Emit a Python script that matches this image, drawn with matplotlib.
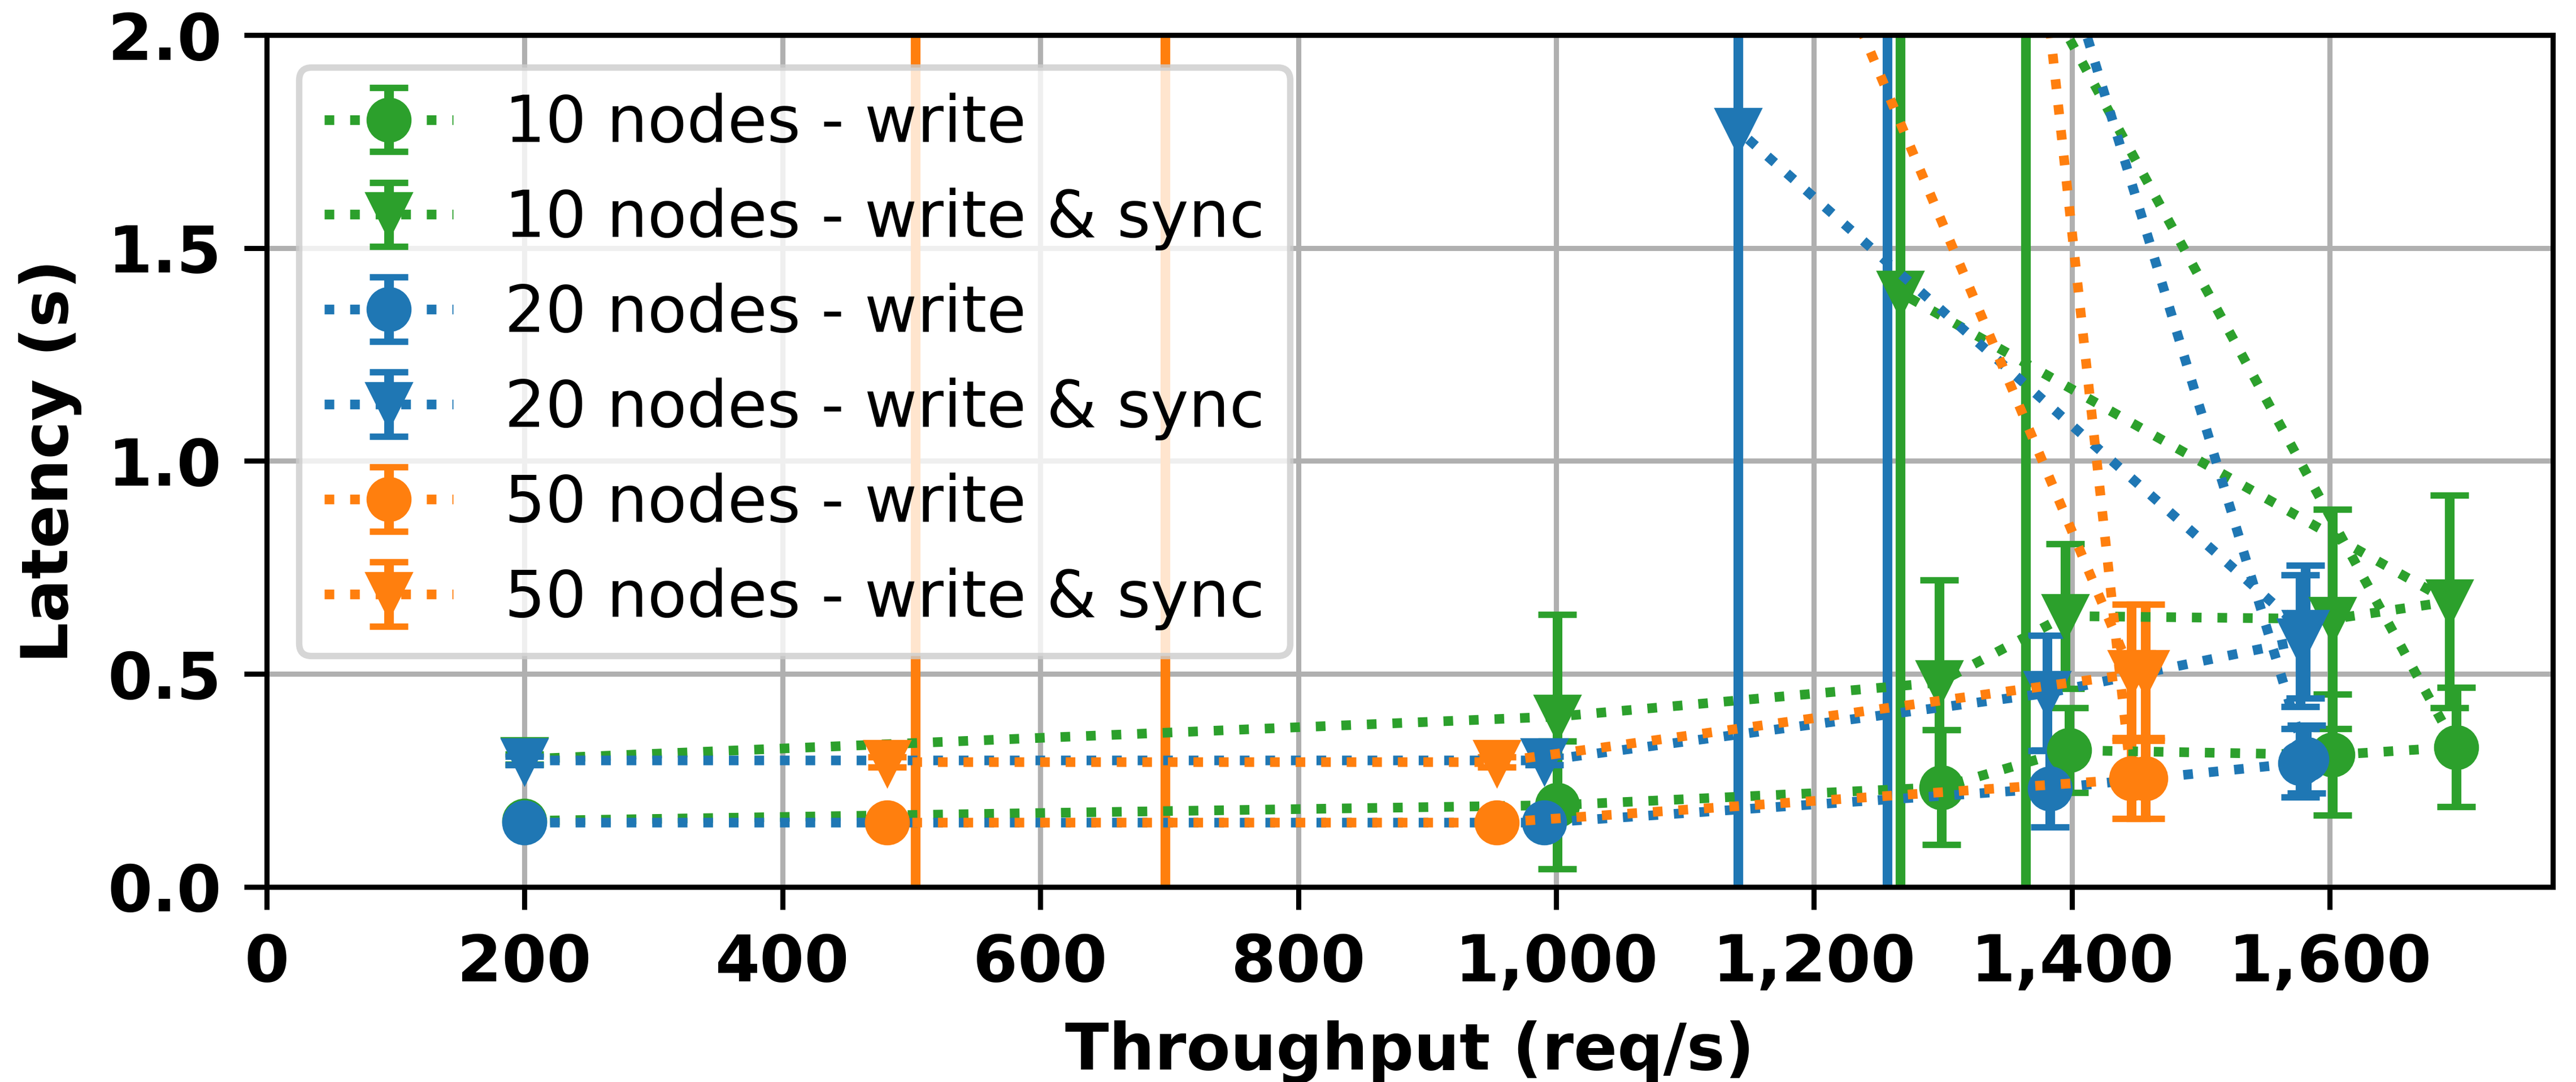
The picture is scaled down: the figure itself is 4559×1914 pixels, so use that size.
import matplotlib
matplotlib.use('Agg')
import matplotlib.pyplot as plt

dpi = 819

# throughput (req/s), latency (s), latency error (s); last point of each run is the overload point
tput_10_write = [200, 1001, 1299, 1398, 1602, 1698, 1364]
lat_10_write = [0.155, 0.192, 0.234, 0.321, 0.31, 0.328, 2.18]
err_10_write = [0.01, 0.15, 0.135, 0.10, 0.142, 0.14, 2.6]

tput_10_sync = [200, 1001, 1297, 1395, 1602, 1693, 1267]
lat_10_sync = [0.30, 0.40, 0.48, 0.636, 0.629, 0.67, 1.395]
err_10_sync = [0.012, 0.24, 0.24, 0.17, 0.257, 0.25, 1.6]

tput_20_write = [200, 991, 1383, 1577, 1582, 1257]
lat_20_write = [0.151, 0.151, 0.231, 0.291, 0.30, 3.54]
err_20_write = [0.01, 0.01, 0.09, 0.08, 0.08, 4.0]

tput_20_sync = [200, 991, 1381, 1577, 1581, 1141]
lat_20_sync = [0.297, 0.297, 0.455, 0.578, 0.599, 1.777]
err_20_sync = [0.01, 0.01, 0.135, 0.155, 0.156, 1.9]

tput_50_write = [481, 954, 1457, 1446, 503]
lat_50_write = [0.151, 0.151, 0.255, 0.255, 26.6]
err_50_write = [0.01, 0.01, 0.095, 0.095, 30.0]

tput_50_sync = [481, 954, 1457, 1446, 697]
lat_50_sync = [0.293, 0.293, 0.504, 0.504, 5.9]
err_50_sync = [0.012, 0.012, 0.16, 0.16, 7.0]

x_ticks = [0, 200, 400, 600, 800, 1000, 1200, 1400, 1600]
y_ticks = [0.0, 0.5, 1.0, 1.5, 2.0]

fig = plt.figure(figsize=(4559 / dpi, 1914 / dpi), dpi=dpi)
ax = fig.add_subplot(111)
fig.subplots_adjust(left=0.1035, right=0.991, bottom=0.1803, top=0.9676)

ax.errorbar(tput_10_write, lat_10_write, yerr=err_10_write, fmt='o:', color='C2',
            capsize=3, label='10 nodes - write')
ax.errorbar(tput_10_sync, lat_10_sync, yerr=err_10_sync, fmt='v:', color='C2',
            capsize=3, label='10 nodes - write & sync')
ax.errorbar(tput_20_write, lat_20_write, yerr=err_20_write, fmt='o:', color='C0',
            capsize=3, label='20 nodes - write')
ax.errorbar(tput_20_sync, lat_20_sync, yerr=err_20_sync, fmt='v:', color='C0',
            capsize=3, label='20 nodes - write & sync')
ax.errorbar(tput_50_write, lat_50_write, yerr=err_50_write, fmt='o:', color='C1',
            capsize=3, label='50 nodes - write')
ax.errorbar(tput_50_sync, lat_50_sync, yerr=err_50_sync, fmt='v:', color='C1',
            capsize=3, label='50 nodes - write & sync')

ax.set_xlim(0, 1773)
ax.set_ylim(0, 2.0)
ax.set_xticks(x_ticks)
ax.set_xticklabels([f'{v:,}' for v in x_ticks], fontweight='bold')
ax.set_yticks(y_ticks)
ax.set_yticklabels([f'{v:.1f}' for v in y_ticks], fontweight='bold')
ax.set_xlabel('Throughput (req/s)', fontweight='bold')
ax.set_ylabel('Latency (s)', fontweight='bold')
ax.grid(True)
ax.legend(loc='upper left')

fig.savefig('out.png', dpi=dpi)
